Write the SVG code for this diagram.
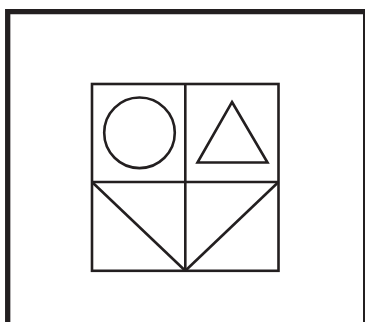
<svg xmlns="http://www.w3.org/2000/svg" width="365" height="322" viewBox="0 0 365 322">
<style>
.s{fill:none;stroke:#231f20;stroke-width:2.6;stroke-linejoin:miter}
.f{fill:none;stroke:#231f20}
</style>
<rect width="365" height="322" fill="#fff"/>
<g id="frame">
<path class="f" d="M7.7 322 V11.6 H365" stroke-width="5.3"/>
<path class="f" d="M364 12 V322" stroke-width="2"/>
</g>
<g id="grid">
<rect class="s" x="92" y="84" width="186.5" height="186.8"/>
<line class="s" x1="185.3" y1="84" x2="185.3" y2="270.8"/>
<line class="s" x1="92" y1="182" x2="278.5" y2="182"/>
</g>
<g id="circle"><circle class="s" cx="139.5" cy="132.8" r="35.3"/></g>
<g id="triangle"><polygon class="s" points="232,102 267.5,162.5 197.5,162.5"/></g>
<g id="connectors">
<line class="s" x1="92" y1="182" x2="185.3" y2="270.8"/>
<line class="s" x1="278.5" y1="182" x2="185.3" y2="270.8"/>
</g>
</svg>
